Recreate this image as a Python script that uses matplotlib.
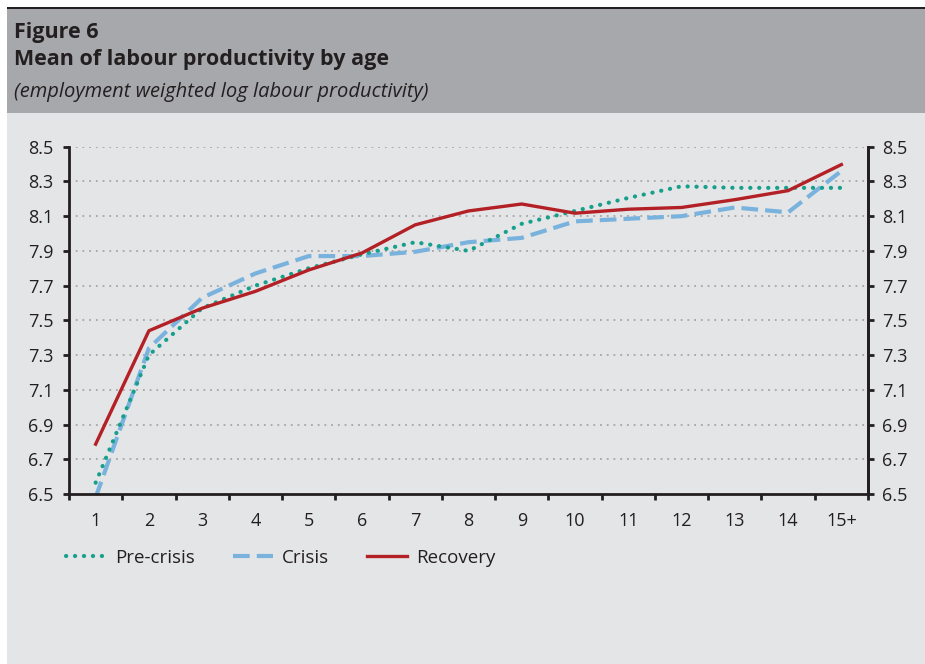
import matplotlib
matplotlib.use('Agg')
import matplotlib.pyplot as plt
from matplotlib.patches import Rectangle

plt.rcParams['font.family'] = ['Open Sans', 'DejaVu Sans']

# data
ages = ['1', '2', '3', '4', '5', '6', '7', '8', '9', '10', '11', '12', '13', '14', '15+']
pre_crisis = [6.565, 7.30, 7.57, 7.70, 7.80, 7.88, 7.95, 7.90, 8.056, 8.13, 8.205, 8.272, 8.263, 8.263, 8.263]
crisis = [6.48, 7.34, 7.63, 7.77, 7.87, 7.87, 7.895, 7.95, 7.975, 8.07, 8.085, 8.10, 8.15, 8.122, 8.36]
recovery = [6.787, 7.44, 7.57, 7.667, 7.79, 7.888, 8.05, 8.13, 8.17, 8.117, 8.14, 8.15, 8.195, 8.247, 8.397]
yticks = [6.5, 6.7, 6.9, 7.1, 7.3, 7.5, 7.7, 7.9, 8.1, 8.3, 8.5]

W, H = 925, 664
fig = plt.figure(figsize=(W / 100, H / 100), dpi=100)
fig.patch.set_facecolor('white')

# panel backgrounds
fig.patches.append(Rectangle((7 / W, 0), 1 - 7 / W, 1 - 112.5 / H, transform=fig.transFigure,
                             facecolor='#e4e5e7', edgecolor='none', zorder=-10))
fig.patches.append(Rectangle((7 / W, 1 - 112.5 / H), 1 - 7 / W, (112.5 - 9.3) / H, transform=fig.transFigure,
                             facecolor='#a7a8ab', edgecolor='none', zorder=-10))
fig.patches.append(Rectangle((7 / W, 1 - 9.3 / H), 1 - 7 / W, 2.2 / H, transform=fig.transFigure,
                             facecolor='#231f20', edgecolor='none', zorder=-10))

fig.text(14 / W, 1 - 38 / H, 'Figure 6', fontsize=15.5, fontweight='bold', color='#231f20', va='baseline')
fig.text(14 / W, 1 - 65.5 / H, 'Mean of labour productivity by age', fontsize=15.5, fontweight='bold',
         color='#231f20', va='baseline')
fig.text(14 / W, 1 - 97 / H, '(employment weighted log labour productivity)', fontsize=14.5, style='italic',
         color='#231f20', va='baseline')

ax = fig.add_axes([69 / W, 1 - 494 / H, (868 - 69) / W, (494 - 146.7) / H])
ax.set_facecolor('none')
x = list(range(1, len(ages) + 1))

ax.plot(x, pre_crisis, color='#16a08c', lw=3.0, linestyle=(0, (0.05, 2.1)), dash_capstyle='round',
        label='Pre-crisis', zorder=3)
ax.plot(x, crisis, color='#7ab2de', lw=3.0, linestyle=(0, (4.0, 1.7)), label='Crisis', zorder=2)
ax.plot(x, recovery, color='#b32025', lw=2.4, label='Recovery', zorder=4)

ax.set_xlim(0.5, len(ages) + 0.5)
ax.set_ylim(6.5, 8.5)
ax.set_yticks(yticks)
ax.set_yticklabels([f'{v:.1f}' for v in yticks])
ax.set_xticks([i + 0.5 for i in range(len(ages) + 1)])
ax.set_xticklabels([])
ax.set_xticks(x, minor=True)
ax.set_xticklabels(ages, minor=True)
ax.tick_params(axis='x', which='major', direction='out', length=4, width=2, color='#231f20')
ax.tick_params(axis='x', which='minor', length=0, pad=13, labelsize=13, labelcolor='#231f20')
ax.tick_params(axis='y', direction='out', length=4, width=2, color='#231f20', labelsize=13,
               labelcolor='#231f20', pad=7)
for v in yticks[1:]:
    ax.axhline(v, color='#9b9b9b', lw=1.1, linestyle=(0, (1.2, 3.2)), zorder=1)
ax.spines['top'].set_visible(False)
for s in ['left', 'bottom', 'right']:
    ax.spines[s].set_linewidth(2)
    ax.spines[s].set_color('#231f20')

ax2 = ax.twinx()
ax2.set_ylim(6.5, 8.5)
ax2.set_yticks(yticks)
ax2.set_yticklabels([f'{v:.1f}' for v in yticks])
ax2.tick_params(axis='y', direction='out', length=4, width=2, color='#231f20', labelsize=13,
                labelcolor='#231f20', pad=6)
for s in ['top', 'left', 'bottom']:
    ax2.spines[s].set_visible(False)
ax2.spines['right'].set_linewidth(2)
ax2.spines['right'].set_color('#231f20')

fig.legend(loc='center left', bbox_to_anchor=(66 / W, 1 - 558 / H), ncol=3, frameon=False,
           fontsize=13.5, handlelength=2.15, handletextpad=0.48, columnspacing=2.0, borderpad=0,
           borderaxespad=0, labelcolor='#231f20')

fig.savefig('out.png', dpi=100, facecolor=fig.get_facecolor())
